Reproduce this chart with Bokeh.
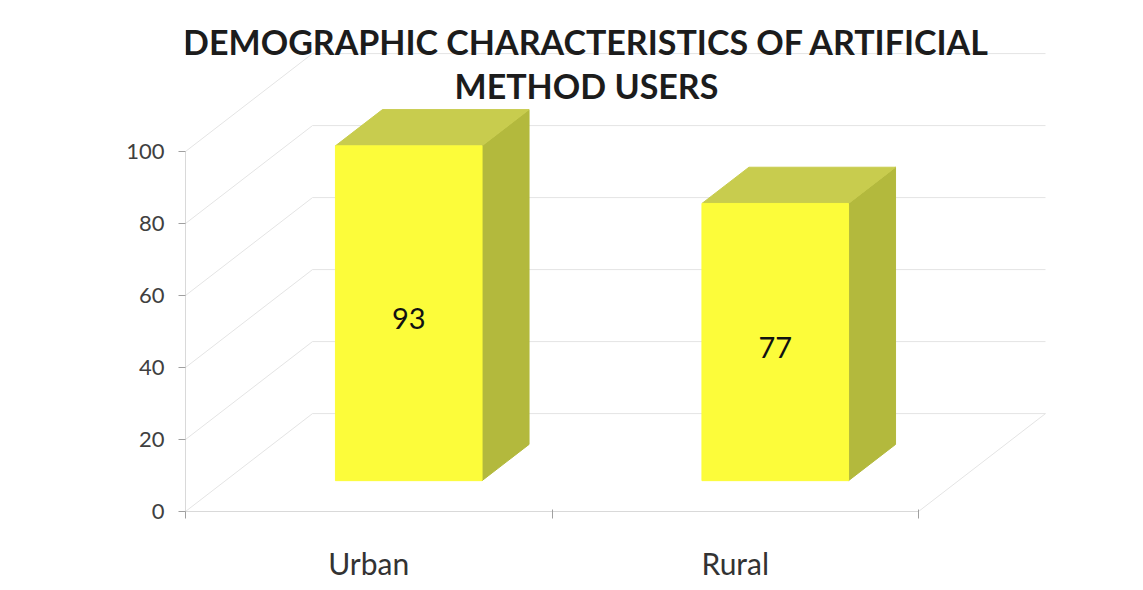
from bokeh.plotting import figure
from bokeh.models import Range1d, FixedTicker, CustomJSTickFormatter, ColumnDataSource
from bokeh.core.properties import value
from bokeh.embed import file_html
from bokeh.resources import INLINE

# ---- data ----
categories = ["Urban", "Rural"]
values = [93, 77]
y_ticks = [0, 20, 40, 60, 80, 100]
title_lines = ["DEMOGRAPHIC CHARACTERISTICS OF ARTIFICIAL", "METHOD USERS"]

# ---- 3D (oblique) geometry, in data units ----
DX, DY = 0.3465, 27.2          # floor depth vector (category units, value units)
T0, T1 = 0.315, 0.685          # bar front / back depth fractions
HW = 0.2                       # half bar width (category units)
N = len(categories)
YMAX = 100

PX_PER_CAT = 366.5
PX_PER_VAL = 3.6
FRAME_W, FRAME_H = 942, 502

p = figure(width=1127, height=573, frame_width=FRAME_W, frame_height=FRAME_H,
           x_range=Range1d(0, FRAME_W / PX_PER_CAT),
           y_range=Range1d(0, FRAME_H / PX_PER_VAL),
           min_border_left=185, min_border_right=0, min_border_top=9,
           min_border_bottom=62,
           output_backend="svg", toolbar_location=None)
p.grid.visible = False
p.outline_line_color = None
p.background_fill_color = "white"

grid_col = "#e4e4e4"
# walls: left-wall diagonals and back-wall horizontals
x0s, y0s, x1s, y1s = [], [], [], []
for t in y_ticks:
    x0s.append(0); y0s.append(t); x1s.append(DX); y1s.append(t + DY)
    x0s.append(DX); y0s.append(t + DY); x1s.append(N + DX); y1s.append(t + DY)
# floor right edge
x0s.append(N); y0s.append(0); x1s.append(N + DX); y1s.append(DY)
p.segment(x0=x0s, y0=y0s, x1=x1s, y1=y1s, line_color=grid_col, line_width=1)

# ---- bars ----
front_xs, front_ys, top_xs, top_ys, side_xs, side_ys = [], [], [], [], [], []
for i, v in enumerate(values):
    c = i + 0.5
    l0, r0 = c - HW + T0 * DX, c + HW + T0 * DX
    l1, r1 = c - HW + T1 * DX, c + HW + T1 * DX
    b0, b1 = T0 * DY, T1 * DY
    front_xs.append([l0, r0, r0, l0]); front_ys.append([b0, b0, b0 + v, b0 + v])
    top_xs.append([l0, r0, r1, l1]); top_ys.append([b0 + v, b0 + v, b1 + v, b1 + v])
    side_xs.append([r0, r1, r1, r0]); side_ys.append([b0, b1, b1 + v, b0 + v])

p.patches(xs=side_xs, ys=side_ys, fill_color="#b3b93d", line_color="#b3b93d")
p.patches(xs=top_xs, ys=top_ys, fill_color="#c8cc4e", line_color="#c8cc4e")
p.patches(xs=front_xs, ys=front_ys, fill_color="#fcfc3a", line_color="#fcfc3a")

# value labels
lab_src = ColumnDataSource(dict(
    x=[i + 0.5 + T0 * DX for i in range(N)],
    y=[T0 * DY + v / 2 - 1.5 for v in values],
    t=[str(v) for v in values]))
p.text(x="x", y="y", text="t", source=lab_src, text_align="center",
       text_baseline="middle", text_font=value("Lato"), text_font_size="29px",
       text_color="#111111")

# title
p.text(x=[1.094, 1.094], y=[130.5, 118.3], text=title_lines, text_align="center",
       text_baseline="middle", text_font=value("Lato"), text_font_size="34px",
       text_font_style="bold", text_color="#1c1c1c")

# ---- axes ----
ya = p.yaxis[0]
ya.ticker = FixedTicker(ticks=y_ticks)
ya.bounds = (0, YMAX)
ya.axis_line_color = "#d9d9d9"
ya.major_tick_line_color = "#a0a0a0"
ya.major_tick_out = 7
ya.major_tick_in = 0
ya.minor_tick_line_color = None
ya.major_label_standoff = 14
ya.major_label_text_font = "Lato"
ya.major_label_text_font_size = "22px"
ya.major_label_text_color = "#404040"

xa = p.xaxis[0]
xa.ticker = FixedTicker(ticks=[i + 0.5 for i in range(N)], minor_ticks=list(range(N + 1)))
xa.formatter = CustomJSTickFormatter(args=dict(labels=categories),
                                     code="return labels[Math.floor(tick)];")
xa.bounds = (0, N)
xa.axis_line_color = "#d9d9d9"
xa.major_tick_line_color = None
xa.major_tick_out = 0
xa.major_tick_in = 0
xa.minor_tick_line_color = "#a0a0a0"
xa.minor_tick_out = 7
xa.minor_tick_in = 2
xa.major_label_standoff = 26
xa.major_label_text_font = "Lato"
xa.major_label_text_font_size = "30px"
xa.major_label_text_color = "#333333"

open("out.html", "w").write(file_html(p, INLINE))
